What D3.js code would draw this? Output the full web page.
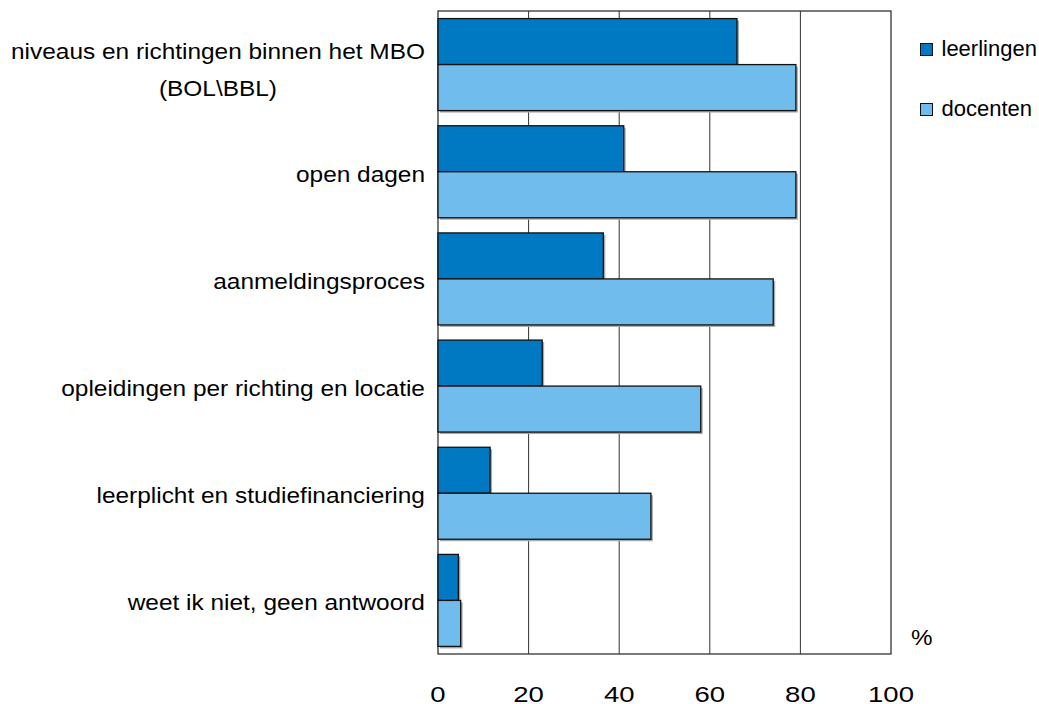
<!DOCTYPE html>
<html>
<head>
<meta charset="utf-8">
<script src="https://cdn.jsdelivr.net/npm/d3@7"></script>
<style>
    body { margin: 0; background: #fff; }
    svg text { font-family: 'Liberation Sans', Arial, sans-serif; fill: #000; }
</style>
</head>
<body>
<svg id="chart" width="1039" height="704"></svg>
<script>
'use strict';

const categories = [
    ['niveaus en richtingen binnen het MBO', '(BOL\\BBL)'],
    ['open dagen'],
    ['aanmeldingsproces'],
    ['opleidingen per richting en locatie'],
    ['leerplicht en studiefinanciering'],
    ['weet ik niet, geen antwoord']
];
const seriesNames = ['leerlingen', 'docenten'];
const leerlingen = [66, 41, 36.5, 23, 11.5, 4.5];
const docenten = [79, 79, 74, 58, 47, 5];
const xTicks = [0, 20, 40, 60, 80, 100];

const colors = ['#0079c2', '#70bcec'];
const fontSize = 22;

const svg = d3.select('#chart');
const plotLeft = 438;
const plotRight = 891;
const plotTop = 11;
const plotBottom = 654;

const x = d3.scaleLinear().domain([0, 100]).range([plotLeft, plotRight]);
const y = d3.scaleBand().domain(d3.range(categories.length)).range([plotTop, plotBottom]);
const ySub = d3.scaleBand().domain(seriesNames).range([0, y.bandwidth()])
    .paddingInner(0).paddingOuter(0.165);

const rows = categories.map((c, i) => ({
    i: i,
    values: [leerlingen[i], docenten[i]]
}));

// frame
svg.append('rect')
    .attr('x', plotLeft).attr('y', plotTop)
    .attr('width', plotRight - plotLeft).attr('height', plotBottom - plotTop)
    .attr('fill', 'none').attr('stroke', '#222').attr('stroke-width', 1.2);

// grid lines
svg.append('g')
    .selectAll('line')
    .data(xTicks.slice(1, -1))
    .enter()
    .append('line')
    .attr('x1', d => x(d)).attr('x2', d => x(d))
    .attr('y1', plotTop).attr('y2', plotBottom)
    .attr('stroke', '#333').attr('stroke-width', 1);

// bars
const group = svg.append('g')
    .selectAll('g')
    .data(rows)
    .enter()
    .append('g')
    .attr('transform', d => `translate(0 ${y(d.i)})`);

group.selectAll('.shadow')
    .data(d => d.values.map((v, k) => ({ v: v, k: k })))
    .enter()
    .append('rect')
    .attr('class', 'shadow')
    .attr('x', x(0) + 2)
    .attr('y', d => ySub(seriesNames[d.k]) + 2)
    .attr('width', d => x(d.v) - x(0))
    .attr('height', ySub.bandwidth())
    .attr('fill', '#aaa');

group.selectAll('.bar')
    .data(d => d.values.map((v, k) => ({ v: v, k: k })))
    .enter()
    .append('rect')
    .attr('class', 'bar')
    .attr('x', x(0))
    .attr('y', d => ySub(seriesNames[d.k]))
    .attr('width', d => x(d.v) - x(0))
    .attr('height', ySub.bandwidth())
    .attr('fill', d => colors[d.k])
    .attr('stroke', '#111')
    .attr('stroke-width', 1.3);

// category labels (multi-line centred, block right-aligned at x=425)
// the source text is slightly stretched horizontally
const labelStretch = 1.11;
const labels = svg.append('g')
    .selectAll('text')
    .data(categories)
    .enter()
    .append('text')
    .attr('font-size', fontSize)
    .attr('text-anchor', 'middle');

labels.each(function (lines, i) {
    const t = d3.select(this);
    const lh = 36.7;
    const cy = y(i) + y.bandwidth() / 2;
    const y0 = cy - (lines.length - 1) * lh / 2 + 10 + (lines.length - 1) * 3;
    lines.forEach((ln, k) => {
        t.append('tspan').attr('x', 0).attr('y', y0 + k * lh).text(ln);
    });
    let w = 0;
    t.selectAll('tspan').each(function () {
        w = Math.max(w, this.getComputedTextLength());
    });
    const cx = 425 - w * labelStretch / 2;
    t.attr('transform', `translate(${cx} 0) scale(${labelStretch} 1)`);
});

// x tick labels
svg.append('g')
    .selectAll('text')
    .data(xTicks)
    .enter()
    .append('text')
    .attr('transform', d => `translate(${x(d)} 702) scale(1.25 1)`)
    .attr('font-size', fontSize)
    .attr('text-anchor', 'middle')
    .text(d => d);

svg.append('text')
    .attr('transform', 'translate(911 645) scale(1.1 1)')
    .attr('font-size', fontSize)
    .text('%');

// legend
const legend = svg.append('g')
    .selectAll('g')
    .data(seriesNames)
    .enter()
    .append('g')
    .attr('transform', (d, i) => `translate(920.5 ${43.5 + i * 60})`);

legend.append('rect')
    .attr('width', 12).attr('height', 12)
    .attr('fill', (d, i) => colors[i])
    .attr('stroke', '#111').attr('stroke-width', 1);

legend.append('text')
    .attr('x', 21).attr('y', 12.5)
    .attr('font-size', fontSize)
    .text(d => d);
</script>
</body>
</html>
